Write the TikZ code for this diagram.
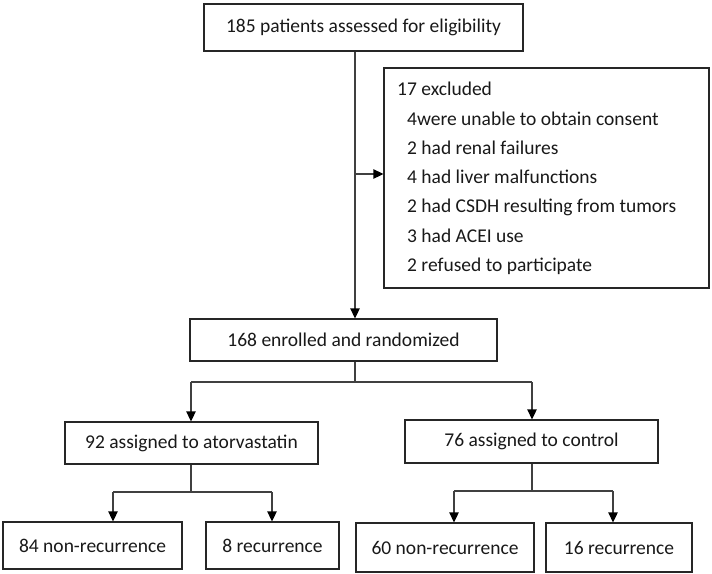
\documentclass[tikz,border=0pt]{standalone}
\usepackage{fontspec}
\setmainfont{Carlito}
\usetikzlibrary{arrows.meta}
\begin{document}
\begin{tikzpicture}[x=1pt,y=-1pt,
  every node/.style={font=\fontsize{19.5}{23}\selectfont, text=black!90},
  box/.style={draw=black!85, line width=1.3pt, rectangle, inner sep=0pt, anchor=center},
  line/.style={draw=black!75, line width=1.3pt},
  arr/.style={line, -{Triangle[length=10pt,width=9.5pt,color=black]}},
  txt/.style={anchor=base west, inner sep=0pt}]
\useasboundingbox (0,0) rectangle (712,573);
\fill[white] (0,0) rectangle (712,573);

\node[box, minimum width=319pt, minimum height=47pt] (top) at (363.5,27.5) {185 patients assessed for eligibility};
\node[box, minimum width=325pt, minimum height=220pt] (exc) at (546.5,178) {};
\node[txt] (e0) at (397,95.7) {17 excluded};
\node[txt] (e1) at (407,125) {4were unable to obtain consent};
\node[txt] (e2) at (407,154.3) {2 had renal failures};
\node[txt] (e3) at (407,183.6) {4 had liver malfunctions};
\node[txt] (e4) at (407,212.9) {2 had CSDH resulting from tumors};
\node[txt] (e5) at (407,242.2) {3 had ACEI use};
\node[txt] (e6) at (407,271.5) {2 refused to participate};

\node[box, minimum width=307pt, minimum height=42pt] (enr) at (343.5,340) {168 enrolled and randomized};
\node[box, minimum width=253pt, minimum height=42pt] (ator) at (191.5,443) {92 assigned to atorvastatin};
\node[box, minimum width=253pt, minimum height=43pt] (ctrl) at (531.5,441.5) {76 assigned to control};
\node[box, minimum width=179pt, minimum height=47pt] (an) at (92.5,545.5) {84 non-recurrence};
\node[box, minimum width=133pt, minimum height=47pt] (ar) at (272.5,545.5) {8 recurrence};
\node[box, minimum width=178pt, minimum height=49pt] (cn) at (445,547.5) {60 non-recurrence};
\node[box, minimum width=146pt, minimum height=49pt] (cr) at (619,547.5) {16 recurrence};

% spine
\coordinate (sp) at (355,174);
\draw[arr] (top.south -| sp) -- (enr.north -| sp);
\draw[arr] (sp) -- (exc.west |- sp);

% enrolled split
\coordinate (s1) at (355,382);
\coordinate (t1) at (191,382);
\coordinate (t2) at (532,382);
\draw[line] (enr.south -| s1) -- (s1);
\draw[line] (t1) -- (t2);
\draw[arr] (t1) -- (ator.north -| t1);
\draw[arr] (t2) -- (ctrl.north -| t2);

% atorvastatin split
\coordinate (s2) at (191,492);
\coordinate (a1) at (113,492);
\coordinate (a2) at (272,492);
\draw[line] (ator.south -| s2) -- (s2);
\draw[line] (a1) -- (a2);
\draw[arr] (a1) -- (an.north -| a1);
\draw[arr] (a2) -- (ar.north -| a2);

% control split
\coordinate (s3) at (532,491);
\coordinate (c1) at (454,491);
\coordinate (c2) at (613,491);
\draw[line] (ctrl.south -| s3) -- (s3);
\draw[line] (c1) -- (c2);
\draw[arr] (c1) -- (cn.north -| c1);
\draw[arr] (c2) -- (cr.north -| c2);
\end{tikzpicture}
\end{document}
